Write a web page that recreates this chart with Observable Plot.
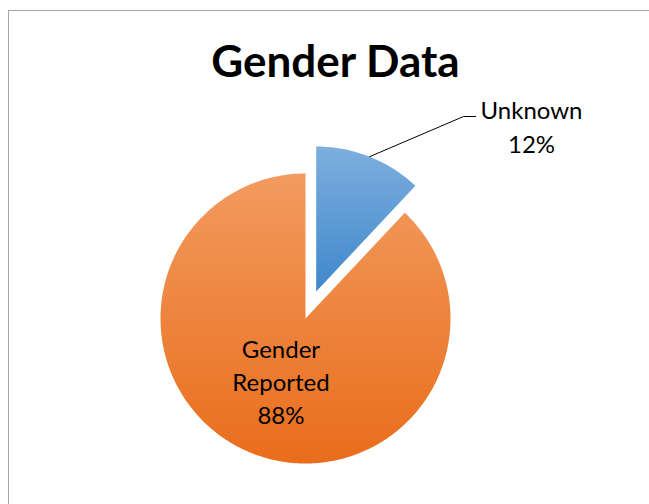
<!DOCTYPE html>
<html><head><meta charset="utf-8">
<script src="https://cdn.jsdelivr.net/npm/d3@7"></script>
<script src="https://cdn.jsdelivr.net/npm/@observablehq/plot@0.6"></script>
<style>
body{margin:0;background:#fff;}
#wrap{position:relative;width:649px;height:504px;overflow:hidden;background:#fff;}
#border{position:absolute;left:8px;top:10px;width:700px;height:600px;border:1px solid #a6a6a6;box-sizing:border-box;}
#chart{position:absolute;left:0;top:0;}
</style></head><body>
<div id="wrap"><div id="border"></div><div id="chart"></div></div>
<script>
// ---- data ----
const title = "Gender Data";
const categories = ["Unknown", "Gender Reported"];
const percents = [12, 88];
const labels = ["Unknown\n12%", "Gender\nReported\n88%"];
const explode = [0.2, 0];
const gradTop = ["#7dafdf", "#f29b5f"];
const gradBottom = ["#3f87cb", "#e96d1b"];

// ---- layout (pixels) ----
const W = 649, H = 504;
const CX = 305, CY = 318, R = 145;
const toX = p => (p - CX) / R;
const toY = p => (CY - p) / R;

// ---- slices ----
const total = d3.sum(percents);
let acc = 0;
const slices = categories.map((c, i) => {
  const a0 = acc / total * 2 * Math.PI;
  acc += percents[i];
  const a1 = acc / total * 2 * Math.PI;
  const mid = (a0 + a1) / 2;
  const ox = explode[i] * Math.sin(mid), oy = explode[i] * Math.cos(mid);
  const n = Math.max(8, Math.ceil((a1 - a0) / (Math.PI / 180)));
  const pts = [{x: ox, y: oy}];
  for (let k = 0; k <= n; k++) {
    const a = a0 + (a1 - a0) * k / n;
    pts.push({x: ox + Math.sin(a), y: oy + Math.cos(a)});
  }
  pts.push({x: ox, y: oy});
  return {cat: c, i, a0, a1, mid, ox, oy, pts};
});

// inside label for slice 2 (along mid-angle)
const inner = slices[1];
const innerLabel = [{x: inner.ox + 0.46 * Math.sin(inner.mid), y: inner.oy + 0.46 * Math.cos(inner.mid), t: labels[1]}];

// outside label + leader for slice 1
const s0 = slices[0];
const leader = [
  {x: s0.ox + Math.sin(s0.mid), y: s0.oy + Math.cos(s0.mid)},
  {x: toX(463), y: toY(116)},
  {x: toX(475), y: toY(116)}
];
const outerLabel = [{x: toX(531), y: toY(125), t: labels[0]}];

const font = "Lato, 'Open Sans', sans-serif";

const plot = Plot.plot({
  width: W, height: H,
  margin: 0,
  x: {domain: [toX(0), toX(W)], axis: null},
  y: {domain: [toY(H), toY(0)], axis: null},
  style: {background: "transparent", fontFamily: font},
  marks: [
    ...slices.map(s => Plot.line(s.pts, {x: "x", y: "y", fill: `url(#grad${s.i})`, stroke: "none"})),
    Plot.line(leader, {x: "x", y: "y", stroke: "#000", strokeWidth: 1}),
    Plot.text(outerLabel, {x: "x", y: "y", text: "t", fontSize: 24, lineHeight: 1.42, fill: "#000", fontFamily: font}),
    Plot.text(innerLabel, {x: "x", y: "y", text: "t", fontSize: 24, lineHeight: 1.36, fill: "#000", fontFamily: font}),
    Plot.text([title], {x: toX(335), y: toY(62), text: d => d, fontSize: 44, fontWeight: "bold", fill: "#000", fontFamily: font})
  ]
});

const svg = d3.select(plot);
const defs = svg.insert("defs", ":first-child");
slices.forEach(s => {
  const g = defs.append("linearGradient").attr("id", `grad${s.i}`)
    .attr("x1", 0).attr("y1", 0).attr("x2", 0).attr("y2", 1);
  g.append("stop").attr("offset", "0%").attr("stop-color", gradTop[s.i]);
  g.append("stop").attr("offset", "100%").attr("stop-color", gradBottom[s.i]);
});
document.getElementById("chart").appendChild(plot);
</script>
</body></html>
